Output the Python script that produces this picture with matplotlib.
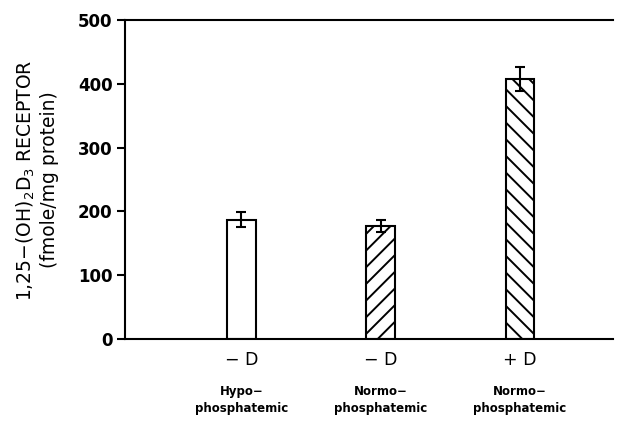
import matplotlib
matplotlib.use("Agg")
import matplotlib.pyplot as plt

categories = ["Hypo−\nphosphatemic", "Normo−\nphosphatemic", "Normo−\nphosphatemic"]
treatments = ["− D", "− D", "+ D"]
values = [187, 177, 408]
errors = [12, 10, 19]
hatches = ["", "//", "\\\\"]
yticks = [0, 100, 200, 300, 400, 500]

plt.rcParams['font.family'] = ['DejaVu Sans']
plt.rcParams['hatch.linewidth'] = 1.4

fig = plt.figure(figsize=(6.27, 4.21), dpi=100)
ax = fig.add_axes([125/627, 1-339/421, (613-125)/627, (339-20)/421])

x = [1, 2, 3]
for xi, v, e, h in zip(x, values, errors, hatches):
    ax.bar(xi, v, width=0.205, color='white', edgecolor='black', linewidth=1.5, hatch=h, zorder=2)
    ax.errorbar(xi, v, yerr=e, fmt='none', ecolor='black', elinewidth=1.5, capsize=3.5, capthick=1.5, zorder=3)

ax.set_xlim(0.165, 3.667)
ax.set_ylim(0, 500)
ax.set_yticks(yticks)
ax.set_yticklabels([str(t) for t in yticks], fontsize=12, fontweight='bold')
ax.tick_params(axis='y', direction='out', length=6, width=1.5, pad=3)
ax.set_xticks([])
for s in ['left', 'bottom', 'top']:
    ax.spines[s].set_linewidth(1.5)
ax.spines['right'].set_visible(False)

for xi, t, c in zip(x, treatments, categories):
    ax.text(xi, -33, t, ha='center', va='center', fontsize=12.5)
    ax.text(xi, -96, c, ha='center', va='center', fontsize=8.5, fontweight='bold',
            linespacing=1.4)

fig.text(26/627, 1-180/421, "1,25−(OH)$_2$D$_3$ RECEPTOR", rotation=90, ha='center', va='center', fontsize=13.5)
fig.text(50/627, 1-180/421, "(fmole/mg protein)", rotation=90, ha='center', va='center', fontsize=13.5)

fig.savefig("out.png", dpi=100)
